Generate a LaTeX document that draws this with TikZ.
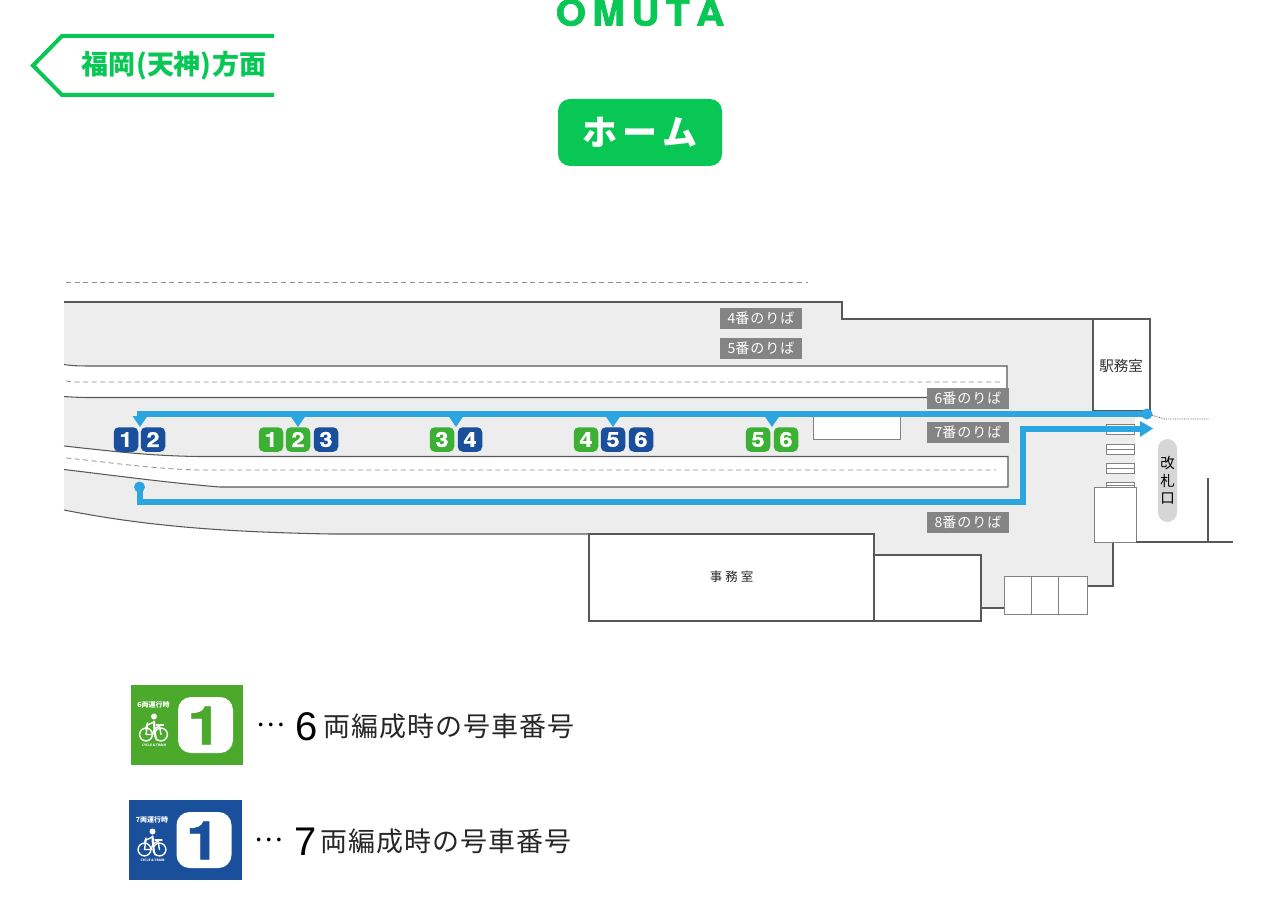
\documentclass[tikz,border=0pt]{standalone}
\usepackage{fontspec}
\setmainfont{Noto Sans CJK JP}
\newfontfamily\latinfont{Liberation Sans}
\newfontfamily\heavyfont{TeX Gyre Heros}[BoldFeatures={FakeBold=1,FakeStretch=1.15}]
\newfontfamily\titlefont{TeX Gyre Heros}[BoldFeatures={FakeBold=2,FakeStretch=1.08}]
\usepackage{xcolor}
\usetikzlibrary{arrows.meta,positioning,calc}
\definecolor{signgreen}{HTML}{08C755}
\definecolor{cargreen}{HTML}{3CAF35}
\definecolor{legendgreen}{HTML}{4BA92C}
\definecolor{carblue}{HTML}{1A4F9C}
\definecolor{route}{HTML}{2CA6E0}
\definecolor{floorbg}{HTML}{EDEDED}
\definecolor{wall}{HTML}{585858}
\definecolor{dashgray}{HTML}{8E8E8E}
\definecolor{labelgray}{HTML}{848484}
\definecolor{gatebg}{HTML}{D6D6D6}

\begin{document}
\begin{tikzpicture}[
  x=1pt,y=-1pt,
  wl/.style={draw=wall,line width=1.05pt},
  dsh/.style={draw=dashgray,line width=0.8pt,dash pattern=on 5pt off 3.6pt},
  room/.style={wl,fill=white},
  stair/.style={draw=wall!75,line width=0.9pt,fill=white},
  noriba/.style={fill=labelgray,text=white,font=\fontsize{14}{14}\selectfont,
    minimum width=82pt,minimum height=21pt,inner sep=0pt},
  caru/.style={rounded corners=5pt,minimum width=24.5pt,minimum height=24.5pt,inner sep=0pt,
    text=white,font=\heavyfont\bfseries\fontsize{20.5}{20.5}\selectfont},
  cg/.style={caru,fill=cargreen},
  cb/.style={caru,fill=carblue},
  rt/.style={draw=route,line width=6pt},
  legtext/.style={font=\fontsize{27}{27}\selectfont,text=black!85,anchor=west,inner sep=0pt},
  legnum/.style={font=\latinfont\fontsize{40}{40}\selectfont,text=black,anchor=west,inner sep=0pt},
  gatetext/.style={font=\fontsize{14.5}{14.5}\selectfont,text=black,inner sep=0pt},
  iconw/.style={draw=white,line width=1.4pt,line cap=round,line join=round}
]
\useasboundingbox (0,0) rectangle (1280,920);

% ==================== header ====================
\node[font=\titlefont\bfseries\fontsize{36}{36}\selectfont,text=signgreen,anchor=base] (omuta) at (640,25.5) {O\kern6.5pt M\kern6.5pt U\kern6.5pt T\kern6.5pt A};
\draw[signgreen,line width=4pt,miter limit=4] (274,36) -- (62,36) -- (33,65.5) -- (62,95) -- (274,95);
\node[font=\bfseries\fontsize{27}{27}\selectfont,text=signgreen,inner sep=0pt] (direction) at (174,66) {福岡\kern1pt(天神)\kern1pt 方面};
\node[fill=signgreen,rounded corners=12pt,minimum width=164pt,minimum height=67pt,inner sep=0pt,
  text=white,font=\bfseries\fontsize{35}{35}\selectfont] (home) at (640,132.5) {ホ\kern5pt ー\kern5pt ム};

% ==================== floor ====================
\fill[floorbg] (64,302) -- (842,302) -- (842,319) -- (1135,319) -- (1135,542) -- (1113,542) -- (1113,586)
  -- (1004,586) -- (1004,608) -- (981,608) -- (981,555) -- (874,555) -- (874,534) -- (589,534)
  -- (330,534) .. controls (230,532) and (150,527) .. (64,510) -- cycle;
\draw[wl] (64,302) -- (842,302) -- (842,319) -- (1093,319);
\draw[wl] (64,510) .. controls (150,527) and (230,532) .. (330,534) -- (589,534);
\draw[wl] (1113,542) -- (1113,586) -- (1087,586);
\draw[wl] (981,608) -- (1004,608);

% tracks
\filldraw[wl,fill=white] (64,364.5) .. controls (70,365.5) and (76,366) .. (90,366) -- (1007,366) -- (1007,397.5) -- (90,397.5)
  .. controls (80,397.5) and (70,397) .. (64,396.5);
\filldraw[wl,fill=white] (64,446) .. controls (110,451) and (150,456) .. (200,456.5) -- (1008,456.5) -- (1008,487) -- (220,487)
  .. controls (170,483) and (110,475) .. (64,469.5);
\draw[dsh] (66,282) -- (808,282);
\draw[dsh] (66,381) .. controls (70,382) and (76,382) .. (90,382) -- (1000,382);
\draw[dsh] (66,458) .. controls (100,461) and (150,469) .. (200,470) -- (996,470);

% rooms
\draw[stair] (813,414) rectangle (900,439.5);
\draw[room] (589,534) rectangle (874,621);
\draw[room] (874,555) rectangle (981,621);
\draw[room] (1093,319) rectangle (1150,411);
\node[font=\fontsize{14.5}{14.5}\selectfont,text=black!80,inner sep=0pt] (ekimu) at (1121,366.5) {駅務室};
\node[font=\fontsize{12.5}{13}\selectfont,text=black!85,inner sep=0pt] (jimu) at (731.5,577) {事\kern3pt 務\kern3pt 室};
\foreach \xa/\xb in {1004/1031,1031/1058.5,1058.5/1087}
  \draw[stair] (\xa,576) rectangle (\xb,614);

% stairs and gate
\foreach \ya/\yb in {424/434,444/454,463/473,482/488} {
  \draw[stair] (1106,\ya) rectangle (1134,\yb);
  \draw[stair] (1106,{(\ya+\yb)/2}) -- (1134,{(\ya+\yb)/2});
}
\draw[stair,fill=white] (1094,487) rectangle (1136,542);
\draw[wl] (1136,542) -- (1233,542);
\draw[wl] (1208,478) -- (1208,542);
\node[fill=gatebg,rounded corners=9.5pt,minimum width=19pt,minimum height=83pt,inner sep=0pt] (gate) at (1167.5,480.5) {};
\node[gatetext] (kai) at (1167.5,463) {改};
\node[gatetext] (satsu) at (1167.5,481) {札};
\node[gatetext] (kuchi) at (1167.5,498.5) {口};

% ==================== platform labels ====================
\node[noriba] (n4) at (761,318.5) {4番\kern1pt の\kern1pt り\kern1pt ば};
\node[noriba] (n5) at (761,348.5) {5番\kern1pt の\kern1pt り\kern1pt ば};
\node[noriba] (n6) at (968,398.5) {6番\kern1pt の\kern1pt り\kern1pt ば};
\node[noriba] (n7) at (968,432.5) {7番\kern1pt の\kern1pt り\kern1pt ば};
\node[noriba] (n8) at (968,522) {8番\kern1pt の\kern1pt り\kern1pt ば};

% ==================== routes ====================
\coordinate (upend) at (1147,414);
\coordinate (upstart) at (137,414);
\coordinate (lostart) at (139.5,487);
\coordinate (locorner) at (139.5,501.5);
\coordinate (loup) at (1023,501.5);
\coordinate (lotop) at (1023,428.5);
\coordinate (loend) at (1153,428.5);
\coordinate (dotbend) at (1165,419);
\coordinate (dotend) at (1209,419);

\draw[draw=wall,line width=0.8pt,densely dotted] (upend) -- (dotbend) -- (dotend);
\draw[rt] (upstart) -- (upend);
\fill[route] (upend) circle (5.5pt);
\foreach \tx in {140,298,456,613,772}
  \fill[route] (\tx-7.5,416) -- (\tx+7.5,416) -- (\tx,427) -- cycle;
\draw[rt,line join=miter] (lostart) -- (locorner) -- (loup) -- (lotop) -- (1142,428.5);
\fill[route] (1140,421) -- (loend) -- (1140,437) -- cycle;
\fill[route] (lostart) circle (5.5pt);

% ==================== car numbers ====================
\node[cb] (a1) at (126,439.5) {1};
\node[cb] (a2) at (153,439.5) {2};
\node[cg] (b1) at (271,439.5) {1};
\node[cg] (b2) at (298,439.5) {2};
\node[cb] (b3) at (326,439.5) {3};
\node[cg] (c3) at (442,439.5) {3};
\node[cb] (c4) at (470,439.5) {4};
\node[cg] (d4) at (586,439.5) {4};
\node[cb] (d5) at (613,439.5) {5};
\node[cb] (d6) at (641,439.5) {6};
\node[cg] (e5) at (758,439.5) {5};
\node[cg] (e6) at (786,439.5) {6};

% ==================== legend ====================
\foreach \ly/\lx/\colr/\num in {725/130.5/legendgreen/6,840/129/carblue/7} {
  \begin{scope}[shift={(\lx,\ly-40)}]
    \fill[\colr] (0,0) rectangle (112.5,80);
    \fill[white,rounded corners=13pt] (47.5,12) rectangle (102.5,68);
    \node[font=\heavyfont\bfseries\fontsize{53}{53}\selectfont,text=\colr,inner sep=0pt] at (74,40.5) {1};
    \node[font=\bfseries\fontsize{7}{7}\selectfont,text=white,inner sep=0pt] at (23,20) {\num 両運行時};
    \fill[white] (23.5,31.5) circle (3pt);
    \draw[iconw] (15.5,49.5) circle (6.4pt);
    \draw[iconw] (30.5,49.5) circle (6.4pt);
    \draw[iconw,line width=2.2pt] (23.5,36.5) -- (24,44);
    \draw[iconw] (23.5,37) -- (17,40) -- (15.5,49.5) -- (22,49.5) -- (24,44) -- (29,41) -- (30.5,49.5);
    \draw[iconw] (24,44) -- (26,55);
    \draw[iconw] (17,38) -- (15,44);
    \draw[iconw] (26,40) -- (33,40);
    \node[font=\bfseries\fontsize{3.2}{3.2}\selectfont,text=white,inner sep=0pt] at (23.5,60.5) {CYCLE \& TRAIN};
  \end{scope}
}
\node[font=\fontsize{27}{27}\selectfont,text=black,inner sep=0pt] (dots6) at (271,725) {…};
\node[legnum] (num6) at (295,727) {6};
\node[legtext] (leg6) at (323.5,726) {両\kern1pt 編\kern1pt 成\kern1pt 時\kern1pt の\kern1pt 号\kern1pt 車\kern1pt 番\kern1pt 号};
\node[font=\fontsize{27}{27}\selectfont,text=black,inner sep=0pt] (dots7) at (269,840) {…};
\node[legnum] (num7) at (294,842) {7};
\node[legtext] (leg7) at (320.5,841) {両\kern1pt 編\kern1pt 成\kern1pt 時\kern1pt の\kern1pt 号\kern1pt 車\kern1pt 番\kern1pt 号};

\end{tikzpicture}
\end{document}
